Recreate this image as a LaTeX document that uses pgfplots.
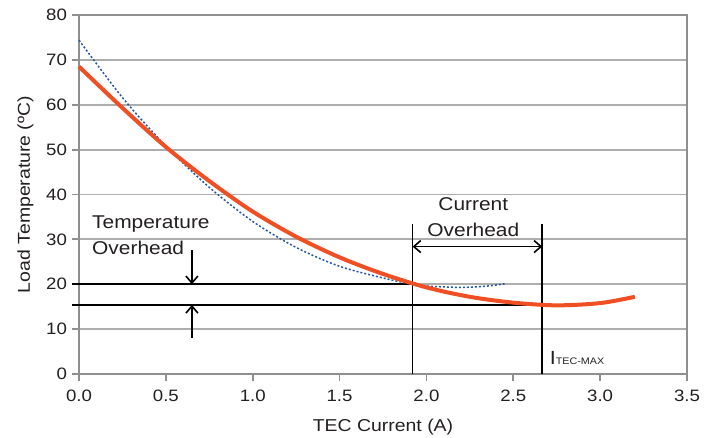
\documentclass[border=0pt]{standalone}
\usepackage{fontspec}
\setmainfont{Liberation Sans}[FakeStretch=1.13]
\usepackage{pgfplots}
\pgfplotsset{compat=1.18}
\usetikzlibrary{arrows.meta}
\definecolor{redc}{HTML}{F04E23}
\definecolor{bluec}{HTML}{2457A6}
\definecolor{gridc}{HTML}{ADADAD}
\definecolor{axisc}{HTML}{8F8F8F}
\definecolor{txt}{HTML}{231F20}
\begin{document}
\begin{tikzpicture}
\useasboundingbox (-79bp,-64bp) rectangle (636bp,374bp);
\begin{axis}[
  at={(0,0)}, anchor=south west,
  scale only axis, width=608bp, height=359bp,
  xmin=0, xmax=3.5, ymin=0, ymax=80,
  xtick={0,0.5,1,1.5,2,2.5,3,3.5},
  ytick={0,10,20,30,40,50,60,70,80},
  xticklabel style={/pgf/number format/.cd,fixed,fixed zerofill,precision=1,/tikz/.cd,yshift=-6bp},
  yticklabel style={xshift=-2bp},
  /pgf/number format/assume math mode=true,
  every tick label/.append style={font=\fontsize{16.5bp}{19bp}\selectfont, text=txt},
  axis line style={draw=axisc, line width=1.8bp},
  tick style={draw=axisc, line width=1.8bp},
  tick align=outside, major tick length=6.5bp,
  xtick pos=bottom, ytick pos=left,
  ymajorgrids, grid style={draw=gridc, line width=1.8bp},
  clip=false,
  xlabel={TEC Current (A)},
  ylabel={Load Temperature (ºC)},
  label style={font=\fontsize{17.2bp}{20bp}\selectfont, text=txt},
  xlabel style={at={(axis description cs:0.5,-0.1607)}, anchor=base},
  ylabel style={at={(axis description cs:-0.0806,0.5)}, anchor=base},
]
% annotation lines
\addplot[black, line width=1.8bp, forget plot] coordinates {(-0.04,20) (1.92,20)};
\addplot[black, line width=1.8bp, forget plot] coordinates {(-0.04,15.4) (2.71,15.4)};
\addplot[black, line width=1.8bp, forget plot] coordinates {(1.92,0) (1.92,33.5)};
\addplot[black, line width=1.8bp, forget plot] coordinates {(2.667,0) (2.667,33.5)};
% blue dotted curve
\addplot[bluec, line width=1.5bp, dash pattern=on 2bp off 2bp, smooth] coordinates {
(0.0,74.4) (0.25,61.6) (0.5,50.8) (0.75,41.6) (1.0,34.0) (1.25,28.2)
(1.5,24.0) (1.75,21.4) (1.92,20.0) (2.0,19.6) (2.2,19.3) (2.35,19.6) (2.45,20.1)};
% red curve
\addplot[redc, line width=4bp, smooth] coordinates {
(0.0,68.5) (0.25,59.3) (0.5,50.6) (0.75,43.0) (1.0,36.2) (1.25,30.6)
(1.5,26.0) (1.75,22.3) (2.0,19.3) (2.25,17.2) (2.5,15.9) (2.75,15.3)
(3.0,15.8) (3.2,17.2)};
% arrows
\draw[black, line width=1.6bp, -{Straight Barb[length=7bp,width=12bp]}] (axis cs:0.65,27.6) -- (axis cs:0.65,20);
\draw[black, line width=1.6bp, -{Straight Barb[length=7bp,width=12bp]}] (axis cs:0.65,8) -- (axis cs:0.65,15.4);
\draw[black, line width=1.6bp, {Straight Barb[length=7bp,width=12bp]}-{Straight Barb[length=7bp,width=12bp]}] (axis cs:1.92,28.4) -- (axis cs:2.667,28.4);
% texts
\node[anchor=base west, inner sep=0pt, text=txt, font=\fontsize{18.5bp}{22bp}\selectfont] at (axis cs:0.075,32.5) {Temperature};
\node[anchor=base west, inner sep=0pt, text=txt, font=\fontsize{18.5bp}{22bp}\selectfont] at (axis cs:0.075,26.7) {Overhead};
\node[anchor=base, inner sep=0pt, text=txt, font=\fontsize{18.5bp}{22bp}\selectfont] at (axis cs:2.27,36.4) {Current};
\node[anchor=base, inner sep=0pt, text=txt, font=\fontsize{18.5bp}{22bp}\selectfont] at (axis cs:2.27,30.6) {Overhead};
\node[anchor=base west, inner sep=0pt, text=txt] at (axis cs:2.71,2.16) {\fontsize{19bp}{22bp}\selectfont I\fontsize{9.5bp}{11bp}\selectfont TEC-MAX};
\end{axis}
\end{tikzpicture}
\end{document}
